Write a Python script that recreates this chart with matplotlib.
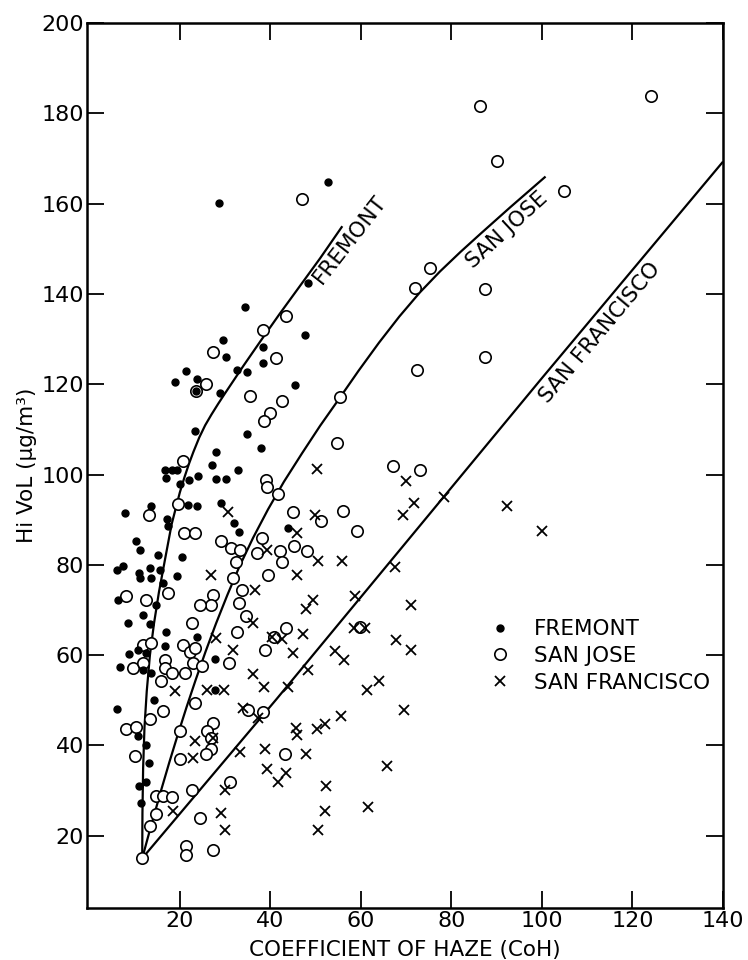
import matplotlib
matplotlib.use("Agg")
import matplotlib.pyplot as plt

# Fremont observations (filled dots)
fremont_coh = [28.7, 52.8, 48.4, 34.4, 47.7, 29.5, 38.4, 30.3, 38.4, 32.7, 34.9, 45.5, 28.9,
               21.3, 18.9, 23.7, 23.5, 23.3, 34.8, 37.9, 28.0, 27.1, 32.9, 16.7, 18.2, 19.3,
               24.0, 17.0, 22.0, 28.1, 30.2, 20.0, 21.8, 23.7, 29.2, 13.7, 17.1, 17.3, 32.0,
               33.1, 44.0, 15.2, 20.4, 19.3, 7.8, 10.4, 11.1, 6.1, 7.4, 11.0, 11.1, 13.4, 13.6,
               15.6, 16.2, 6.3, 11.9, 13.4, 14.7, 8.5, 16.9, 23.8, 8.8, 10.8, 12.6, 16.7, 6.7,
               11.9, 13.7, 27.7, 27.7, 14.2, 6.1, 10.8, 12.6, 13.1, 11.0, 12.6, 11.5]
fremont_hivol = [160.1, 164.9, 142.4, 137.2, 130.9, 129.8, 128.2, 126.0, 124.7, 123.1, 122.8,
                 119.9, 118.0, 123.0, 120.6, 121.1, 118.4, 109.6, 109.0, 105.8, 105.0, 102.1,
                 101.0, 101.0, 101.0, 100.9, 99.7, 99.2, 98.9, 99.0, 99.0, 97.9, 93.3, 93.0,
                 93.7, 93.0, 90.2, 88.6, 89.2, 87.2, 88.2, 82.2, 81.7, 77.6, 91.5, 85.3, 83.3,
                 78.9, 79.8, 78.3, 77.1, 79.3, 77.0, 78.9, 76.0, 72.3, 68.9, 66.9, 71.2, 67.1,
                 65.2, 64.1, 60.3, 61.2, 60.5, 62.1, 57.4, 56.7, 56.0, 59.1, 52.2, 50.1, 48.0,
                 42.0, 40.2, 36.2, 31.1, 32.0, 27.3]

# San Jose observations (open circles)
sanjose_coh = [86.4, 124.1, 90.1, 104.9, 72.0, 75.3, 87.4, 72.4, 87.5, 73.1, 46.9, 43.4, 38.3,
               41.3, 35.5, 42.6, 55.4, 39.9, 38.5, 54.7, 67.1, 39.0, 39.2, 41.8, 45.1, 56.0,
               51.2, 59.1, 38.1, 37.0, 42.1, 45.3, 48.2, 42.5, 39.5, 27.4, 25.8, 23.5, 20.8,
               19.5, 13.2, 20.9, 23.3, 29.2, 31.3, 33.3, 32.4, 31.7, 33.7, 27.4, 17.5, 27.0,
               24.4, 33.1, 34.6, 8.2, 12.5, 22.8, 32.7, 38.9, 40.9, 43.5, 59.7, 11.9, 13.7,
               9.7, 11.9, 16.7, 16.7, 18.2, 15.9, 20.7, 22.2, 23.3, 21.1, 22.9, 24.8, 30.9,
               35.1, 38.3, 23.3, 16.2, 13.4, 8.2, 10.4, 20.0, 27.4, 25.9, 27.0, 27.0, 25.8,
               10.0, 20.0, 14.7, 16.3, 18.2, 14.7, 13.4, 11.7, 22.6, 24.4, 21.3, 21.3, 27.4,
               31.1, 43.2]
sanjose_hivol = [181.6, 183.8, 169.5, 162.9, 141.4, 145.7, 141.0, 123.1, 126.1, 101.0, 161.0,
                 135.1, 132.0, 125.9, 117.4, 116.3, 117.2, 113.6, 111.9, 106.9, 101.8, 98.8,
                 97.2, 95.6, 91.6, 92.0, 89.8, 87.6, 85.9, 82.7, 83.0, 84.1, 83.0, 80.7, 77.8,
                 127.2, 120.0, 118.4, 102.9, 93.5, 91.0, 87.0, 87.0, 85.2, 83.7, 83.2, 80.7,
                 77.0, 74.4, 73.4, 73.7, 71.0, 71.0, 71.5, 68.7, 73.0, 72.3, 67.1, 65.2, 61.2,
                 64.0, 66.0, 66.2, 62.3, 62.7, 57.1, 58.2, 59.0, 57.1, 56.0, 54.2, 62.3, 60.8,
                 61.6, 56.0, 58.2, 57.5, 58.2, 47.9, 47.4, 49.3, 47.6, 45.9, 43.6, 44.0, 43.1,
                 45.0, 43.1, 41.6, 39.1, 38.0, 37.7, 37.0, 28.7, 28.7, 28.6, 24.9, 22.1, 15.1,
                 30.2, 23.9, 17.8, 15.8, 16.9, 32.0, 38.2]

# San Francisco observations (crosses)
sanfran_coh = [78.3, 92.2, 100.1, 50.3, 70.0, 71.7, 69.3, 49.9, 45.8, 39.2, 50.6, 55.8, 45.8,
               67.6, 30.7, 26.8, 36.6, 36.2, 28.0, 31.7, 18.9, 26.0, 29.7, 36.1, 38.6, 33.9,
               37.3, 27.4, 23.3, 18.5, 22.9, 30.0, 29.2, 30.0, 33.3, 38.8, 39.2, 41.8, 45.7,
               45.8, 50.4, 52.1, 55.6, 69.6, 47.9, 43.5, 65.8, 52.3, 52.1, 61.5, 50.6, 49.4,
               47.9, 71.1, 40.3, 42.5, 47.3, 58.4, 61.0, 67.8, 71.1, 44.9, 54.3, 56.2, 48.4,
               43.8, 61.3, 63.9, 58.7]
sanfran_hivol = [95.1, 93.1, 87.4, 101.2, 98.5, 93.7, 91.1, 91.0, 87.0, 83.2, 80.9, 80.9, 77.8,
                 79.6, 91.6, 77.8, 74.4, 67.1, 63.8, 61.2, 52.0, 52.2, 52.2, 55.9, 52.9, 48.3,
                 46.1, 41.6, 40.9, 25.4, 37.2, 30.2, 25.0, 21.2, 38.5, 39.2, 34.8, 32.0, 43.9,
                 42.2, 43.6, 44.8, 46.6, 47.8, 38.2, 33.9, 35.4, 31.1, 25.4, 26.4, 21.3, 72.3,
                 70.2, 71.2, 64.0, 63.6, 64.7, 66.0, 66.0, 63.4, 61.2, 60.5, 61.0, 59.0, 56.6,
                 52.9, 52.3, 54.2, 73.0]

# Fitted curves, vertices
fit_fremont_coh = [11.7, 11.75, 11.9, 12.2, 12.7, 13.4, 14.3, 15.4, 16.7, 18.2, 20.0, 21.0,
                   22.0, 23.0, 24.3, 25.6, 27.0, 28.5, 30.0, 34.0, 38.0, 42.0, 46.5, 51.0, 55.9]
fit_fremont_hivol = [15.0, 25.0, 35.0, 44.0, 52.0, 60.0, 67.0, 74.0, 81.0, 89.0, 96.0, 99.3,
                     102.3, 105.0, 108.2, 110.9, 113.3, 115.7, 118.0, 124.0, 129.8, 135.5,
                     141.7, 147.9, 155.0]
fit_sanjose_coh = [11.7, 13.0, 14.5, 16.0, 17.7, 19.5, 21.5, 23.5, 25.7, 28.0, 30.5, 33.2,
                   36.2, 39.5, 43.0, 47.0, 51.0, 55.0, 59.5, 64.0, 68.5, 73.0, 77.5, 82.0,
                   86.4, 93.0, 100.8]
fit_sanjose_hivol = [15.0, 19.8, 25.2, 30.5, 36.3, 42.2, 48.5, 54.5, 60.8, 67.0, 73.3, 79.7,
                     86.0, 92.3, 98.4, 104.7, 110.8, 116.5, 123.0, 129.2, 135.0, 140.3, 145.0,
                     149.3, 153.3, 159.2, 166.0]
fit_sanfran_coh = [11.7, 41.4, 99.7, 140.0]
fit_sanfran_hivol = [15.0, 50.3, 121.0, 169.3]

x_ticks = [20, 40, 60, 80, 100, 120, 140]
y_ticks = [20, 40, 60, 80, 100, 120, 140, 160, 180, 200]

plt.rcParams['font.family'] = ['DejaVu Sans']

fig = plt.figure(figsize=(7.48, 9.6), dpi=100)
ax = fig.add_axes([0.1163, 0.0542, 0.8503, 0.9218])

for cx, cy in [(fit_fremont_coh, fit_fremont_hivol),
               (fit_sanjose_coh, fit_sanjose_hivol),
               (fit_sanfran_coh, fit_sanfran_hivol)]:
    ax.plot(cx, cy, color='black', lw=1.6, zorder=2, solid_capstyle='butt',
            solid_joinstyle='round')

h_sj, = ax.plot(sanjose_coh, sanjose_hivol, linestyle='none', marker='o', ms=8.2,
                mfc='white', mec='black', mew=1.2, zorder=3, label='SAN JOSE')
h_fr, = ax.plot(fremont_coh, fremont_hivol, linestyle='none', marker='o', ms=5,
                color='black', zorder=4, label='FREMONT')
h_sf, = ax.plot(sanfran_coh, sanfran_hivol, linestyle='none', marker='x', ms=7.5,
                mew=1.3, color='black', zorder=4, label='SAN FRANCISCO')

# curve names written along the lines
ax.text(57.6, 152.1, 'FREMONT', rotation=52, rotation_mode='anchor',
        ha='center', va='center', fontsize=15.5)
ax.text(92.3, 154.2, 'SAN JOSE', rotation=42.5, rotation_mode='anchor',
        ha='center', va='center', fontsize=15.5)
ax.text(112.8, 131.4, 'SAN FRANCISCO', rotation=50, rotation_mode='anchor',
        ha='center', va='center', fontsize=15.5)

ax.legend(handles=[h_fr, h_sj, h_sf], loc='upper left', bbox_to_anchor=(0.632, 0.3265),
          frameon=False, fontsize=15.5, handlelength=1.0, handletextpad=1.1,
          labelspacing=0.32, borderpad=0, borderaxespad=0)

ax.set_xlim(-0.5, 140)
ax.set_ylim(4, 200)
ax.set_xticks(x_ticks)
ax.set_yticks(y_ticks)
ax.tick_params(direction='in', length=12, width=1.3, top=True, right=True,
               labelsize=16, pad=2)
for sp in ax.spines.values():
    sp.set_linewidth(1.8)

ax.set_xlabel('COEFFICIENT OF HAZE (CoH)', fontsize=15.5, va='top')
ax.xaxis.set_label_coords(0.5, -0.036)
ax.set_ylabel('Hi VoL (μg/m³)', fontsize=15.5)
ax.yaxis.set_label_coords(-0.078, 0.5)

fig.savefig('out.png', dpi=100, facecolor='white')
